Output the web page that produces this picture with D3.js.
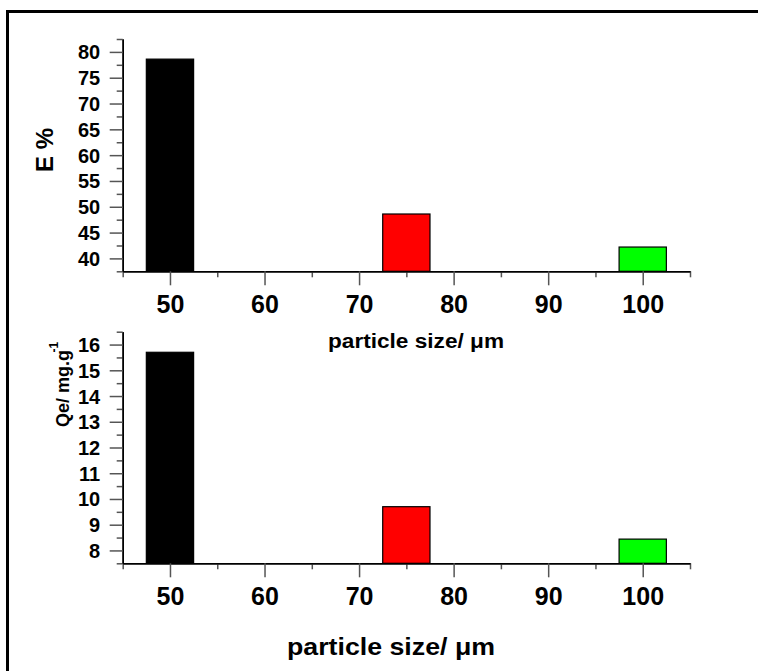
<!DOCTYPE html>
<html>
<head>
<meta charset="utf-8">
<script src="https://cdn.jsdelivr.net/npm/d3@7"></script>
<style>
  body { margin: 0; background: #fff; }
  text { font-family: Arial, "Liberation Sans", Helvetica, sans-serif; font-weight: bold; fill: #000; }
</style>
</head>
<body>
<svg id="chart" width="758" height="671"></svg>
<script>
// Particle sizes (µm) and measured responses
const sizes = [50, 75, 100];
const efficiency = [78.6, 48.6, 42.2];     // E %
const capacity = [15.7, 9.7, 8.44];        // Qe, mg/g
const barColors = ["#000000", "#ff0000", "#00ff00"];

const xMajor = [50, 60, 70, 80, 90, 100];
const xMinor = [45, 55, 65, 75, 85, 95, 105];
const eMajor = [40, 45, 50, 55, 60, 65, 70, 75, 80];
const eMinor = [37.5, 42.5, 47.5, 52.5, 57.5, 62.5, 67.5, 72.5, 77.5, 82.5];
const qMajor = [8, 9, 10, 11, 12, 13, 14, 15, 16];
const qMinor = [7.5, 8.5, 9.5, 10.5, 11.5, 12.5, 13.5, 14.5, 15.5, 16.5];

const svg = d3.select("#chart");
const tickColor = "#555";
const barHalfWidth = 2.5;

// frame line along the left and top edges
svg.append("path")
  .attr("d", "M7.5,680 V11.5 H770")
  .attr("fill", "none")
  .attr("stroke", "#000")
  .attr("stroke-width", 3);

const x = d3.scaleLinear().domain([45, 105]).range([122.7, 690]);

function panel(cfg) {
  const y = d3.scaleLinear().domain(cfg.domain).range([cfg.bottom, cfg.top]);
  const g = svg.append("g");

  // bars
  g.selectAll("rect.bar").data(sizes).join("rect")
    .attr("class", "bar")
    .attr("x", d => x(d - barHalfWidth))
    .attr("width", d => x(d + barHalfWidth) - x(d - barHalfWidth))
    .attr("y", (d, i) => y(cfg.values[i]))
    .attr("height", (d, i) => y(cfg.domain[0]) - y(cfg.values[i]))
    .attr("fill", (d, i) => barColors[i])
    .attr("stroke", "#000")
    .attr("stroke-width", 1.2);

  // minor ticks
  const yMinorAxis = g.append("g").attr("transform", `translate(${x.range()[0]},0)`)
    .call(d3.axisLeft(y).tickValues(cfg.minor).tickSize(6).tickSizeOuter(0).tickFormat(""));
  const xMinorAxis = g.append("g").attr("transform", `translate(0,${cfg.bottom})`)
    .call(d3.axisBottom(x).tickValues(xMinor).tickSize(6).tickSizeOuter(0).tickFormat(""));

  // major ticks with labels
  const yAxis = g.append("g").attr("transform", `translate(${x.range()[0]},0)`)
    .call(d3.axisLeft(y).tickValues(cfg.major).tickSize(13).tickSizeOuter(0).tickPadding(9.5));
  yAxis.selectAll("text").style("font-size", "20px").attr("dy", "0.35em");

  const xAxis = g.append("g").attr("transform", `translate(0,${cfg.bottom})`)
    .call(d3.axisBottom(x).tickValues(xMajor).tickSize(14).tickSizeOuter(0));
  xAxis.selectAll("text").style("font-size", "25px").attr("y", 41.7).attr("dy", 0);

  [yMinorAxis, xMinorAxis, yAxis, xAxis].forEach(a => {
    a.selectAll(".tick line").attr("stroke", tickColor).attr("stroke-width", 1.5);
    a.select(".domain").attr("stroke", "#000").attr("stroke-width", 1.5);
  });

  // x axis title
  g.append("text")
    .attr("x", cfg.xTitle[0]).attr("y", cfg.xTitle[1])
    .attr("text-anchor", "middle")
    .attr("textLength", cfg.xTitleLength)
    .attr("lengthAdjust", "spacingAndGlyphs")
    .style("font-size", cfg.xTitleSize + "px")
    .text("particle size/ μm");
  return g;
}

panel({ domain: [37.5, 82.5], top: 39, bottom: 271.3, values: efficiency,
        major: eMajor, minor: eMinor, xTitle: [416, 348], xTitleSize: 20, xTitleLength: 176 });
panel({ domain: [7.5, 16.5], top: 331.7, bottom: 563.3, values: capacity,
        major: qMajor, minor: qMinor, xTitle: [391, 655], xTitleSize: 23, xTitleLength: 208 });

// y axis titles
svg.append("text")
  .attr("transform", "translate(53,150) rotate(-90)")
  .attr("text-anchor", "middle")
  .style("font-size", "24px")
  .text("E %");

const qLabel = svg.append("text")
  .attr("transform", "translate(69,427) rotate(-90)")
  .attr("text-anchor", "start")
  .style("font-size", "18px");
qLabel.append("tspan").text("Qe/ mg.g");
qLabel.append("tspan").attr("dx", "-0.2em").attr("dy", "-0.95em").style("font-size", "12px").text("-1");
</script>
</body>
</html>
